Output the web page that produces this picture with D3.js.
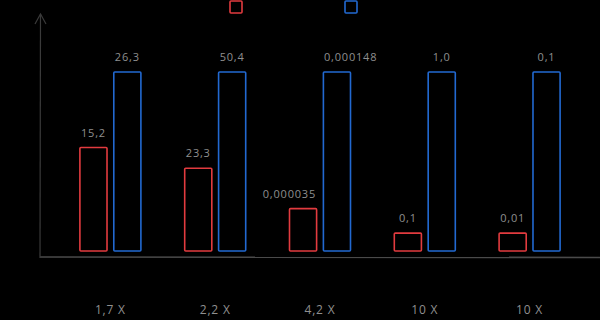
<!DOCTYPE html>
<html>
<head>
<meta charset="utf-8">
<script src="https://cdn.jsdelivr.net/npm/d3@7"></script>
<style>
  html, body { margin: 0; padding: 0; background: #000; }
  svg { display: block; }
  text { font-family: 'Open Sans', Lato, sans-serif; fill: #8f8f8f; letter-spacing: 0.8px; }
</style>
</head>
<body>
<div id="chart"></div>
<script>
// chart data
const ratioLabels = ["1,7 X", "2,2 X", "4,2 X", "10 X", "10 X"];
const redValues = [15.2, 23.3, 0.000035, 0.1, 0.01];
const blueValues = [26.3, 50.4, 0.000148, 1.0, 0.1];
const redLabels = ["15,2", "23,3", "0,000035", "0,1", "0,01"];
const blueLabels = ["26,3", "50,4", "0,000148", "1,0", "0,1"];
const seriesKeys = ["red", "blue"];
const seriesColors = ["#e23b3f", "#2269d1"];

const width = 600, height = 320;

const svg = d3.select("#chart").append("svg")
  .attr("width", width)
  .attr("height", height);

// each group is scaled to its own largest value
const groups = ratioLabels.map((r, i) => {
  const m = Math.max(redValues[i], blueValues[i]);
  return {
    ratio: r,
    idx: i,
    bars: [
      { key: "red", share: redValues[i] / m, label: redLabels[i] },
      { key: "blue", share: blueValues[i] / m, label: blueLabels[i] }
    ]
  };
});

const x0 = d3.scaleBand()
  .domain(d3.range(groups.length))
  .range([58, 582])
  .padding(0);

const groupW = 61;
const x1 = d3.scaleBand()
  .domain(seriesKeys)
  .range([0, groupW])
  .paddingInner(0.2);

const y = d3.scaleLinear().domain([0, 1]).range([251, 72]);
const color = d3.scaleOrdinal().domain(seriesKeys).range(seriesColors);

// axes (plain lines, no ticks)
svg.append("line")
  .attr("x1", 40).attr("x2", 600)
  .attr("y1", 257).attr("y2", 257.5)
  .attr("stroke", "#4a4a4a").attr("stroke-width", 1.6);

svg.append("path")
  .attr("d", "M40,258 L40.5,14")
  .attr("stroke", "#3a3a3a").attr("stroke-width", 1.2).attr("fill", "none");
svg.append("path")
  .attr("d", "M35,24 L40.5,14 L46,24")
  .attr("stroke", "#3a3a3a").attr("stroke-width", 1.2).attr("fill", "none");

// bars
const g = svg.selectAll("g.group")
  .data(groups)
  .join("g")
  .attr("class", "group")
  .attr("transform", d => `translate(${x0(d.idx) + (x0.bandwidth() - groupW) / 2},0)`);

g.selectAll("rect")
  .data(d => d.bars)
  .join("rect")
  .attr("x", d => x1(d.key))
  .attr("y", d => y(d.share))
  .attr("width", x1.bandwidth())
  .attr("height", d => y(0) - y(d.share))
  .attr("fill", "none")
  .attr("stroke", d => color(d.key))
  .attr("stroke-width", 1.6)
  .attr("rx", 1);

const vals = g.selectAll("text.val")
  .data(d => d.bars)
  .join("text")
  .attr("class", "val")
  .attr("x", d => x1(d.key) + x1.bandwidth() / 2)
  .attr("y", d => y(d.share) - 11)
  .attr("text-anchor", "middle")
  .style("font-size", "11px")
  .text(d => d.label);

// push the two labels of a group apart when they overlap
g.each(function() {
  const t = d3.select(this).selectAll("text.val").nodes();
  if (t.length < 2) return;
  const w0 = t[0].getComputedTextLength(), w1 = t[1].getComputedTextLength();
  const c0 = +t[0].getAttribute("x"), c1 = +t[1].getAttribute("x");
  const overlap = (c0 + w0 / 2) + 8 - (c1 - w1 / 2);
  if (overlap > 0) {
    t[0].setAttribute("x", c0 - overlap / 2);
    t[1].setAttribute("x", c1 + overlap / 2);
  }
});

// ratio labels under the axis
svg.selectAll("text.ratio")
  .data(groups)
  .join("text")
  .attr("class", "ratio")
  .attr("x", d => x0(d.idx) + x0.bandwidth() / 2)
  .attr("y", 314)
  .attr("text-anchor", "middle")
  .style("font-size", "12px")
  .text(d => d.ratio);

// legend squares
const legendX = [230, 345];
svg.selectAll("rect.legend")
  .data(seriesKeys)
  .join("rect")
  .attr("class", "legend")
  .attr("x", (d, i) => legendX[i])
  .attr("y", 1)
  .attr("width", 12)
  .attr("height", 12)
  .attr("rx", 1)
  .attr("fill", "none")
  .attr("stroke", d => color(d))
  .attr("stroke-width", 1.6);
</script>
</body>
</html>
